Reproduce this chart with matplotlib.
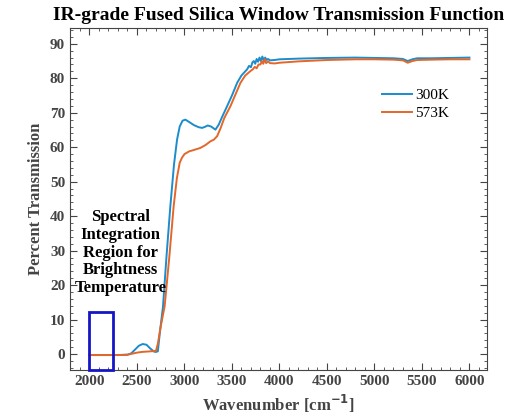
import matplotlib.pyplot as plt
from matplotlib.patches import Rectangle
from matplotlib.ticker import MultipleLocator

# transmission curves
w300 = [2000, 2100, 2200, 2300, 2400, 2440, 2480, 2520, 2560, 2600, 2640, 2680, 2700, 2720,
        2740, 2774, 2810, 2851, 2890, 2922, 2950, 2980, 3010, 3050, 3100, 3150, 3186, 3215,
        3245, 3280, 3326, 3360, 3400, 3449, 3500, 3555, 3600, 3640, 3660, 3680, 3700, 3715,
        3730, 3745, 3760, 3775, 3790, 3805, 3820, 3835, 3850, 3865, 3880, 3900, 3950, 4000,
        4200, 4500, 4800, 5000, 5200, 5300, 5350, 5400, 5450, 5600, 5800, 6000]
t300 = [-0.3, -0.3, -0.3, -0.3, -0.2, 0.2, 1.3, 2.4, 2.9, 2.7, 1.6, 0.7, 0.6, 0.8,
        6, 13.8, 28, 42.8, 55, 62.2, 66, 67.7, 68.0, 67.3, 66.4, 65.8, 65.6, 65.9,
        66.3, 66.0, 65.1, 66.5, 69, 71.9, 75, 78.7, 80.8, 82.0, 82.6, 83.6, 83.2, 84.6,
        85.0, 84.2, 85.6, 84.8, 86.0, 85.0, 86.3, 85.2, 86.0, 85.3, 85.6, 85.2, 85.3, 85.5,
        85.7, 85.9, 86.0, 85.9, 85.8, 85.6, 85.0, 85.5, 85.8, 85.8, 85.9, 86.0]

w573 = [2000, 2100, 2200, 2300, 2400, 2450, 2500, 2550, 2600, 2650, 2700, 2720, 2750, 2791,
        2840, 2886, 2920, 2950, 2975, 3000, 3050, 3100, 3168, 3220, 3273, 3310, 3344, 3380,
        3420, 3484, 3540, 3590, 3640, 3695, 3720, 3740, 3760, 3780, 3800, 3815, 3830, 3845,
        3860, 3880, 3900, 3950, 4000, 4200, 4500, 4800, 5000, 5200, 5300, 5350, 5400, 5450,
        5600, 5800, 6000]
t573 = [-0.3, -0.3, -0.3, -0.3, -0.2, 0.1, 0.4, 0.6, 0.7, 0.8, 0.9, 3, 8, 13.8,
        28, 42.8, 51, 55.5, 57.0, 58.0, 58.8, 59.2, 59.8, 60.6, 61.7, 62.2, 63.2, 65.5,
        68.5, 71.9, 75.5, 78.7, 80.8, 82.1, 82.6, 83.3, 82.9, 84.0, 84.0, 85.0, 84.2, 85.5,
        84.4, 84.9, 84.4, 84.3, 84.5, 84.9, 85.3, 85.5, 85.5, 85.4, 85.2, 84.5, 85.0, 85.3,
        85.4, 85.5, 85.5]

band = (2000, 2250)   # spectral integration region
band_top = 12.3

plt.rcParams['font.family'] = ['Liberation Serif', 'DejaVu Serif']
gray = "#444444"

fig = plt.figure(figsize=(5.11, 4.17), dpi=100)
ax = fig.add_axes([0.137, 0.113, 0.816, 0.82])

ax.plot(w300, t300, color="#1b8ccc", lw=1.4, label="300K")
ax.plot(w573, t573, color="#e4672a", lw=1.4, label="573K")

ax.set_xlim(1795, 6185)
ax.set_ylim(-4.6, 94.6)

ax.add_patch(Rectangle((band[0], -4.6), band[1] - band[0], band_top + 4.6,
                       fill=False, edgecolor="#1515c8", lw=2, zorder=4, clip_on=False))
ax.text(2324, 29.4, "Spectral\nIntegration\nRegion for\nBrightness\nTemperature",
        ha="center", va="center", fontsize=12, fontweight="bold", linespacing=1.15)

ax.xaxis.set_major_locator(MultipleLocator(500))
ax.xaxis.set_minor_locator(MultipleLocator(100))
ax.yaxis.set_major_locator(MultipleLocator(10))
ax.yaxis.set_minor_locator(MultipleLocator(2))
ax.tick_params(which="both", direction="in", top=True, right=True, color=gray)
ax.tick_params(which="major", length=5, labelsize=11, labelcolor=gray)
ax.tick_params(which="minor", length=2.5)
for lab in ax.get_xticklabels() + ax.get_yticklabels():
    lab.set_fontweight("bold")
for s in ax.spines.values():
    s.set_color(gray)

ax.set_xlabel("Wavenumber [cm$^{\\mathbf{-1}}$]", fontsize=12, fontweight="bold", color=gray)
ax.set_ylabel("Percent Transmission", fontsize=12, fontweight="bold", color=gray)
ax.set_title("IR-grade Fused Silica Window Transmission Function",
             fontsize=14, fontweight="bold", pad=6)

ax.legend(loc="lower left", bbox_to_anchor=(0.715, 0.69), frameon=False, fontsize=11,
          handlelength=2.0, handletextpad=0.2, labelspacing=0.3)

fig.savefig("out.png", dpi=100)
